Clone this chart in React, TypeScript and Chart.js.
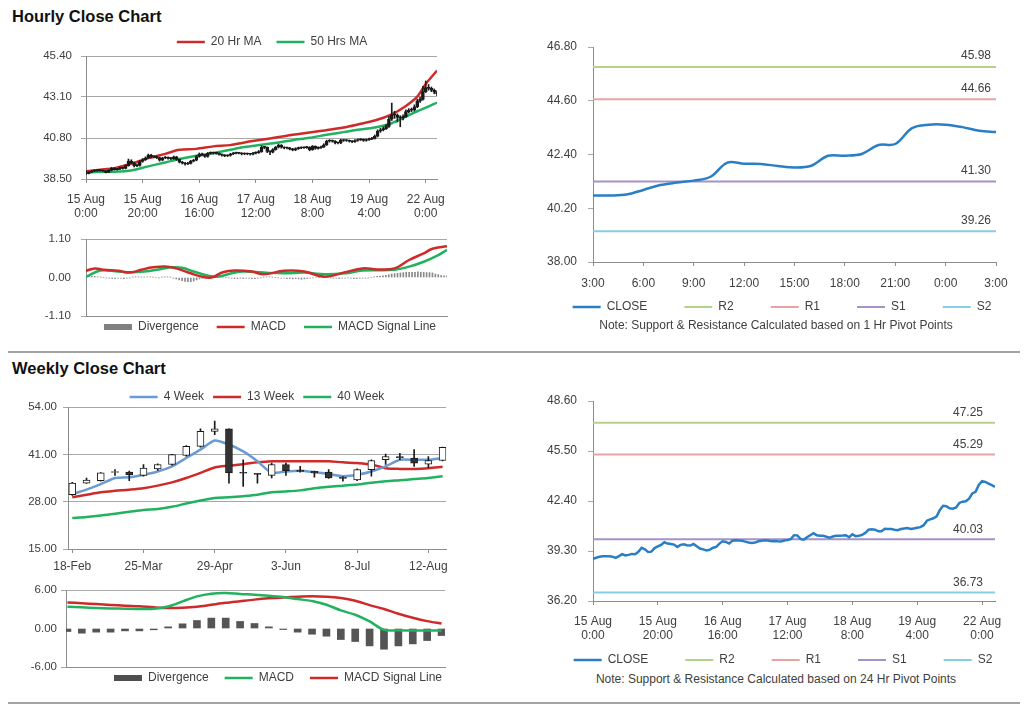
import React, { useEffect, useRef } from 'react';
import { Chart, registerables } from 'chart.js';

Chart.register(...registerables);

const FONT = '"Liberation Sans", Arial, Helvetica, sans-serif';
Chart.defaults.font.family = FONT;

const TXT = '#404040';
const AXIS = '#8c8c8c';
const GRID = '#a8a8a8';
const RED = '#cf2a2a';
const GREEN = '#22b25f';
const BLUE4 = '#6a9bd3';
const CLOSE_BLUE = '#2a7fc4';
const CANDLE = '#1a1a1a';

// ---------------- Hourly (15 Aug 0:00 .. 22 Aug) ----------------
const hourTickIdx = [0, 20, 40, 60, 80, 100, 120];
const hourTickLabels = [
  ['15 Aug', '0:00'], ['15 Aug', '20:00'], ['16 Aug', '16:00'], ['17 Aug', '12:00'],
  ['18 Aug', '8:00'], ['19 Aug', '4:00'], ['22 Aug', '0:00'],
];

const hourlyOpen = [
  38.90, 38.81, 38.88, 38.95, 38.97, 38.97, 38.97, 38.95, 38.87, 38.98,
  39.10, 39.03, 39.06, 39.12, 39.10, 39.25, 39.50, 39.40, 39.24, 39.26,
  39.48, 39.58, 39.68, 39.84, 39.76, 39.74, 39.70, 39.55, 39.68, 39.72,
  39.66, 39.64, 39.74, 39.60, 39.45, 39.40, 39.34, 39.38, 39.50, 39.55,
  39.76, 39.90, 39.86, 39.76, 39.94, 39.97, 39.95, 39.94, 39.88, 39.83,
  39.80, 39.82, 39.90, 39.94, 39.96, 39.95, 39.90, 39.92, 39.90, 39.89,
  39.95, 39.98, 40.04, 40.28, 40.27, 40.05, 40.00, 40.15, 40.28, 40.40,
  40.28, 40.24, 40.24, 40.18, 40.13, 40.20, 40.24, 40.25, 40.26, 40.28,
  40.15, 40.33, 40.22, 40.25, 40.30, 40.42, 40.62, 40.65, 40.62, 40.52,
  40.52, 40.68, 40.66, 40.66, 40.62, 40.59, 40.66, 40.70, 40.72, 40.66,
  40.70, 40.74, 40.78, 40.90, 41.18, 41.26, 41.33, 41.45, 41.85, 42.10,
  42.08, 41.95, 41.92, 42.00, 42.28, 42.36, 42.38, 42.55, 42.87, 42.97,
  43.40, 43.63, 43.58, 43.48, 43.38,
];
const hourlyHigh = [
  38.98, 38.92, 38.99, 39.02, 39.01, 39.03, 39.00, 38.98, 39.02, 39.15,
  39.14, 39.10, 39.18, 39.16, 39.30, 39.62, 39.58, 39.45, 39.33, 39.55,
  39.65, 39.74, 39.90, 39.88, 39.80, 39.78, 39.73, 39.72, 39.77, 39.75,
  39.70, 39.79, 39.77, 39.63, 39.49, 39.44, 39.43, 39.55, 39.60, 39.82,
  39.96, 39.95, 39.89, 39.99, 40.02, 40.01, 39.99, 39.97, 39.91, 39.87,
  39.86, 39.94, 39.99, 40.01, 40.00, 39.98, 39.97, 39.96, 39.94, 40.00,
  40.03, 40.10, 40.36, 40.33, 40.30, 40.09, 40.20, 40.33, 40.46, 40.43,
  40.31, 40.29, 40.27, 40.22, 40.25, 40.29, 40.30, 40.31, 40.33, 40.31,
  40.38, 40.36, 40.30, 40.35, 40.48, 40.68, 40.71, 40.69, 40.65, 40.57,
  40.73, 40.72, 40.70, 40.69, 40.66, 40.71, 40.75, 40.77, 40.75, 40.75,
  40.80, 40.84, 40.97, 41.26, 41.34, 41.42, 41.55, 42.00, 42.76, 42.30,
  42.15, 42.05, 42.10, 42.38, 42.45, 42.48, 42.66, 42.98, 43.10, 43.70,
  44.00, 43.80, 43.66, 43.55, 43.45,
];
const hourlyLow = [
  38.74, 38.78, 38.85, 38.92, 38.93, 38.94, 38.91, 38.84, 38.85, 38.95,
  39.00, 38.99, 39.03, 39.05, 39.07, 39.22, 39.35, 39.18, 39.19, 39.22,
  39.44, 39.54, 39.64, 39.70, 39.68, 39.64, 39.50, 39.52, 39.64, 39.61,
  39.59, 39.60, 39.55, 39.40, 39.34, 39.28, 39.30, 39.34, 39.46, 39.52,
  39.72, 39.80, 39.71, 39.72, 39.90, 39.90, 39.89, 39.84, 39.78, 39.75,
  39.76, 39.78, 39.86, 39.90, 39.90, 39.85, 39.86, 39.86, 39.84, 39.85,
  39.91, 39.94, 40.00, 40.20, 39.98, 39.86, 39.96, 40.12, 40.24, 40.23,
  40.19, 40.19, 40.13, 40.08, 40.09, 40.16, 40.20, 40.21, 40.22, 40.08,
  40.11, 40.17, 40.18, 40.21, 40.26, 40.38, 40.57, 40.57, 40.47, 40.47,
  40.48, 40.61, 40.61, 40.57, 40.54, 40.55, 40.62, 40.66, 40.61, 40.62,
  40.66, 40.70, 40.74, 40.86, 41.12, 41.20, 41.28, 41.40, 41.78, 41.90,
  41.70, 41.43, 41.82, 41.95, 42.20, 42.28, 42.32, 42.50, 42.80, 42.92,
  43.35, 43.48, 43.40, 43.28, 43.18,
];
const hourlyClose = [
  38.81, 38.88, 38.95, 38.97, 38.97, 38.97, 38.95, 38.87, 38.98, 39.10,
  39.03, 39.06, 39.12, 39.10, 39.25, 39.50, 39.40, 39.24, 39.26, 39.48,
  39.58, 39.68, 39.84, 39.76, 39.74, 39.70, 39.55, 39.68, 39.72, 39.66,
  39.64, 39.74, 39.60, 39.45, 39.40, 39.34, 39.38, 39.50, 39.55, 39.76,
  39.90, 39.86, 39.76, 39.94, 39.97, 39.95, 39.94, 39.88, 39.83, 39.80,
  39.82, 39.90, 39.94, 39.96, 39.95, 39.90, 39.92, 39.90, 39.89, 39.95,
  39.98, 40.04, 40.28, 40.27, 40.05, 40.00, 40.15, 40.28, 40.40, 40.28,
  40.24, 40.24, 40.18, 40.13, 40.20, 40.24, 40.25, 40.26, 40.28, 40.15,
  40.33, 40.22, 40.25, 40.30, 40.42, 40.62, 40.65, 40.62, 40.52, 40.52,
  40.68, 40.66, 40.66, 40.62, 40.59, 40.66, 40.70, 40.72, 40.66, 40.70,
  40.74, 40.78, 40.90, 41.18, 41.26, 41.33, 41.45, 41.85, 42.10, 42.08,
  41.95, 41.92, 42.00, 42.28, 42.36, 42.38, 42.55, 42.87, 42.97, 43.40,
  43.63, 43.58, 43.48, 43.38, 43.28,
];

const maHourIdx = [0, 5, 10, 16, 22, 28, 33, 39, 45, 51, 56, 62, 68, 73, 79, 85, 91, 96, 102, 108, 113, 117, 120, 124];
const ma20Hour = [38.93, 39.02, 39.11, 39.36, 39.67, 39.91, 40.14, 40.19, 40.33, 40.40, 40.55, 40.70, 40.85, 40.98, 41.11, 41.24, 41.39, 41.56, 41.78, 42.13, 42.60, 43.12, 43.83, 44.58];
const ma50Hour = [38.87, 38.91, 38.91, 38.98, 39.21, 39.43, 39.62, 39.80, 39.95, 40.14, 40.29, 40.42, 40.55, 40.68, 40.81, 40.98, 41.13, 41.26, 41.39, 41.63, 42.00, 42.30, 42.50, 42.79];

const macdHourIdx = [0, 3, 6, 11, 15, 19, 23, 28, 31, 36, 39, 43, 47, 51, 57, 61, 68, 75, 82, 89, 95, 100, 106, 111, 116, 119, 124];
const macdHour = [0.19, 0.26, 0.22, 0.19, 0.14, 0.22, 0.29, 0.31, 0.26, 0.12, 0.04, 0.00, 0.15, 0.20, 0.17, 0.09, 0.19, 0.17, 0.02, 0.15, 0.26, 0.23, 0.26, 0.50, 0.69, 0.82, 0.89];
const sigHourIdx = [0, 5, 11, 15, 20, 25, 29, 33, 37, 42, 45, 50, 54, 61, 68, 75, 82, 89, 95, 106, 111, 116, 121, 124];
const sigHour = [0.02, 0.20, 0.17, 0.15, 0.17, 0.23, 0.29, 0.28, 0.17, 0.05, 0.02, 0.12, 0.17, 0.14, 0.12, 0.14, 0.09, 0.12, 0.20, 0.22, 0.31, 0.45, 0.64, 0.79];
const divHour = [
  0.02, 0.03, 0.04, 0.03, 0.02, 0.01, 0.00, -0.01, -0.02, -0.03,
  -0.03, -0.02, -0.02, -0.03, -0.02, -0.01, 0.01, 0.02, 0.02, 0.01,
  0.01, 0.02, 0.02, 0.01, 0.00, -0.01, 0.01, 0.02, 0.02, 0.01,
  -0.02, -0.04, -0.07, -0.09, -0.11, -0.12, -0.12, -0.10, -0.07, -0.04,
  -0.02, 0.00, 0.02, 0.03, 0.04, 0.03, 0.02, 0.01, 0.00, -0.01,
  -0.02, -0.03, -0.03, -0.02, -0.03, -0.02, -0.02, -0.03, -0.03, -0.02,
  -0.01, 0.01, 0.02, 0.02, 0.01, 0.00, -0.01, -0.02, -0.02, -0.03,
  -0.03, -0.04, -0.03, -0.04, -0.05, -0.04, -0.03, -0.02, -0.01, 0.00,
  0.01, 0.02, 0.01, 0.00, -0.01, -0.02, -0.02, -0.03, -0.02, -0.02,
  -0.01, -0.02, -0.03, -0.03, -0.02, -0.02, -0.02, -0.01, 0.00, 0.02,
  0.03, 0.04, 0.05, 0.06, 0.08, 0.10, 0.11, 0.12, 0.13, 0.14,
  0.15, 0.15, 0.15, 0.15, 0.16, 0.15, 0.15, 0.14, 0.14, 0.13,
  0.10, 0.08, 0.06, 0.05, 0.05,
];

// ---------------- Last day hourly (pivot, 1 Hr) ----------------
const dayTickIdx = [0, 3, 6, 9, 12, 15, 18, 21, 24];
const dayTickLabels = ['3:00', '6:00', '9:00', '12:00', '15:00', '18:00', '21:00', '0:00', '3:00'];
const dayClose = [40.72, 40.72, 40.76, 40.95, 41.15, 41.25, 41.33, 41.49, 42.07, 42.02, 42.01, 41.93, 41.87, 41.94, 42.35, 42.35, 42.42, 42.79, 42.83, 43.48, 43.62, 43.62, 43.52, 43.37, 43.32];

const pivotNames = ['R2', 'R1', 'S1', 'S2'];
const dayPivots = [45.98, 44.66, 41.30, 39.26];
const hourPivots = [47.25, 45.29, 40.03, 36.73];

// ---------------- Weekly ----------------
const weekTickIdx = [0, 5, 10, 15, 20, 25];
const weekTickLabels = ['18-Feb', '25-Mar', '29-Apr', '3-Jun', '8-Jul', '12-Aug'];
const weekOpen = [29.9, 33.1, 33.8, 36.0, 36.1, 35.2, 37.0, 38.2, 40.7, 43.2, 47.3, 48.0, 36.0, 35.7, 35.2, 38.2, 36.4, 36.3, 36.1, 34.6, 34.0, 36.8, 39.5, 40.2, 40.0, 38.3, 39.3];
const weekClose = [33.1, 33.9, 35.9, 36.2, 35.4, 37.2, 38.2, 40.9, 43.2, 47.3, 48.0, 35.9, 35.8, 35.5, 38.2, 36.5, 36.3, 35.9, 34.5, 34.4, 36.8, 39.3, 40.4, 40.1, 38.6, 39.3, 42.9];
const weekHigh = [33.3, 34.5, 36.0, 36.8, 36.4, 38.2, 38.4, 41.0, 43.4, 48.0, 50.1, 48.0, 39.5, 35.8, 38.6, 38.6, 37.7, 36.4, 36.8, 34.9, 37.0, 39.5, 41.1, 41.3, 42.3, 40.4, 43.0];
const weekLow = [29.7, 33.0, 33.6, 35.2, 33.8, 35.0, 36.6, 38.0, 40.5, 43.0, 46.4, 33.1, 32.2, 33.1, 34.5, 35.2, 36.1, 34.7, 34.4, 33.6, 33.8, 35.0, 38.2, 39.5, 37.7, 37.4, 39.2];
const ma4Week = [30.1, 31.3, 32.8, 34.5, 34.7, 35.4, 36.3, 37.7, 40.0, 42.3, 44.8, 43.7, 41.8, 39.1, 35.9, 36.3, 36.5, 36.1, 35.6, 35.0, 35.4, 36.3, 37.7, 39.5, 39.5, 39.5, 40.0];
const ma13Week = [29.2, 29.9, 30.6, 31.0, 31.3, 31.7, 32.4, 33.3, 34.5, 35.9, 37.4, 37.9, 38.3, 38.8, 39.1, 39.1, 39.1, 39.1, 39.1, 38.8, 38.6, 38.2, 37.2, 37.0, 37.0, 37.2, 37.6];
const ma40Week = [23.5, 23.8, 24.2, 24.7, 25.2, 25.7, 26.0, 26.6, 27.5, 28.3, 29.0, 29.2, 29.5, 29.9, 30.6, 30.8, 31.1, 31.7, 32.1, 32.4, 32.7, 33.2, 33.6, 33.9, 34.2, 34.5, 35.0];
const macdWeek = [3.39, 3.30, 3.20, 3.13, 3.08, 3.03, 3.08, 3.44, 4.22, 5.00, 5.43, 5.53, 5.38, 5.27, 5.11, 4.90, 4.59, 4.28, 3.70, 2.82, 2.14, 1.10, -0.21, -0.28, -0.31, -0.31, -0.31];
const sigWeek = [4.07, 3.95, 3.80, 3.68, 3.55, 3.45, 3.30, 3.20, 3.25, 3.40, 3.70, 4.00, 4.25, 4.50, 4.70, 4.85, 4.96, 5.01, 4.96, 4.75, 4.33, 3.65, 3.03, 2.30, 1.67, 1.15, 0.78];
const divWeek = [-0.47, -0.73, -0.57, -0.57, -0.37, -0.37, -0.20, 0.26, 0.73, 1.25, 1.62, 1.62, 1.10, 0.78, 0.26, -0.16, -0.57, -0.89, -1.20, -1.72, -2.03, -2.71, -3.23, -2.71, -2.40, -1.88, -1.10];

// ---------------- Axis tick values ----------------
const hourPriceTicks = [38.5, 40.8, 43.1, 45.4];
const hourMacdTicks = [-1.1, 0, 1.1];
const dayPriceTicks = [38.0, 40.2, 42.4, 44.6, 46.8];
const pivotPriceTicks = [36.2, 39.3, 42.4, 45.5, 48.6];
const weekPriceTicks = [15, 28, 41, 54];
const weekMacdTicks = [-6, 0, 6];

const pivotColors = ['#b3d389', '#e8a4a4', '#a592c8', '#86cde6'];

// ---------------- Plugins ----------------
const legendPlace = {
  id: 'legendPlace',
  afterLayout(chart: any, _args: any, opts: any) {
    const lg = chart.legend;
    if (!lg || !opts || opts.cx == null) return;
    const p = opts.pad;
    const top = opts.cy - p - opts.fs / 2;
    lg.left = opts.cx - 320;
    lg.right = opts.cx + 320;
    lg.width = 640;
    lg.top = top;
    lg.bottom = opts.cy + 20;
    lg.height = lg.bottom - top;
    const ctx = chart.ctx;
    ctx.save();
    ctx.font = `${opts.fs}px ${FONT}`;
    let total = 0;
    for (const it of lg.legendItems || []) total += 28 + opts.fs / 2 + ctx.measureText(it.text).width + p;
    ctx.restore();
    lg.lineWidths = [total];
  },
};

const levelLabels = {
  id: 'levelLabels',
  afterDatasetsDraw(chart: any, _args: any, opts: any) {
    if (!opts || opts.inset == null) return;
    const { ctx, chartArea } = chart;
    const y = chart.scales.y;
    ctx.save();
    ctx.font = `12px ${FONT}`;
    ctx.fillStyle = TXT;
    ctx.textAlign = 'right';
    ctx.textBaseline = 'middle';
    chart.data.datasets.forEach((ds: any) => {
      if (ds.level != null) ctx.fillText(ds.level.toFixed(2), chartArea.right - opts.inset, y.getPixelForValue(ds.level) - opts.dy);
    });
    ctx.restore();
  },
};

Chart.register(legendPlace as any, levelLabels as any);

// ---------------- Helpers ----------------
function yAxis(ticks: number[], width: number, pad: number, gridOnArea: boolean, size: number, skipZero = false) {
  return {
    type: 'linear',
    position: 'left',
    min: ticks[0],
    max: ticks[ticks.length - 1],
    beginAtZero: false,
    afterBuildTicks: (s: any) => { s.ticks = ticks.map((v) => ({ value: v })); },
    afterFit: (s: any) => { s.width = width; },
    ticks: { color: TXT, font: { family: FONT, size }, padding: pad, callback: (v: any) => Number(v).toFixed(2) },
    grid: {
      display: true, drawOnChartArea: gridOnArea, tickLength: 5, lineWidth: 1,
      color: (c: any) => (skipZero && c.tick && c.tick.value === 0 ? 'rgba(0,0,0,0)' : GRID),
    },
    border: { display: true, color: AXIS, width: 1 },
  };
}

function xAxis(min: number, max: number, idx: number[], labels: any[], height: number, pad: number, show: boolean) {
  return {
    type: 'linear',
    position: 'bottom',
    min,
    max,
    offset: false,
    afterBuildTicks: (s: any) => { s.ticks = idx.map((v) => ({ value: v })); },
    afterFit: (s: any) => { s.height = height; },
    ticks: {
      display: show, color: TXT, font: { family: FONT, size: 12, lineHeight: 1.17 }, padding: pad,
      maxRotation: 0, minRotation: 0, autoSkip: false, callback: (_v: any, i: number) => labels[i],
    },
    grid: { display: show, offset: false, drawOnChartArea: false, color: AXIS, tickLength: 4 },
    border: { display: true, color: AXIS, width: 1 },
  };
}

function lineDs(label: string, data: any[], color: string, width: number, tension: number) {
  return {
    type: 'line', label, data, borderColor: color, backgroundColor: color, borderWidth: width,
    pointRadius: 0, pointHoverRadius: 0, pointBorderWidth: width, pointStyle: 'line', tension, fill: false,
  };
}

function legendOpts(pad: number) {
  return {
    display: true,
    position: 'bottom',
    align: 'center',
    maxHeight: 1,
    labels: {
      usePointStyle: true, pointStyleWidth: 28, boxHeight: 6, padding: pad, color: TXT,
      font: { family: FONT, size: 12 },
      generateLabels: (chart: any) => {
        const items = (Chart as any).defaults.plugins.legend.labels.generateLabels(chart);
        return items.map((it: any) => {
          const ds = chart.data.datasets[it.datasetIndex];
          if (ds.legendRect) return { ...it, pointStyle: 'rect', lineWidth: 0, fillStyle: ds.legendRect };
          return { ...it, pointStyle: 'line' };
        });
      },
      filter: (it: any, data: any) => !data.datasets[it.datasetIndex].noLegend,
      sort: (a: any, b: any, data: any) => (data.datasets[a.datasetIndex].rank ?? a.datasetIndex) - (data.datasets[b.datasetIndex].rank ?? b.datasetIndex),
    },
  };
}

function baseOptions(padding: any, scales: any, legendPad: number, cx: number, cy: number, extra: any = {}) {
  return {
    animation: false,
    responsive: false,
    maintainAspectRatio: false,
    events: [],
    layout: { padding },
    scales,
    plugins: {
      legend: legendOpts(legendPad),
      legendPlace: { cx, cy, pad: legendPad, fs: 12 },
      tooltip: { enabled: false },
      title: { display: false },
      ...extra,
    },
  };
}

function candleSets(open: number[], high: number[], low: number[], close: number[], bodyW: number, upFill: string, downFill: string) {
  return [
    {
      type: 'bar', label: 'Body', noLegend: true,
      data: close.map((c, i) => ({ x: i, y: [open[i], c] })),
      backgroundColor: close.map((c, i) => (c >= open[i] ? upFill : downFill)),
      borderColor: CANDLE, borderWidth: 1, borderSkipped: false, barThickness: bodyW, grouped: false, minBarLength: 1,
    },
    {
      type: 'bar', label: 'Wick', noLegend: true,
      data: high.map((h, i) => ({ x: i, y: [low[i], h] })),
      backgroundColor: CANDLE, borderWidth: 0, barThickness: 1, grouped: false, minBarLength: 1,
    },
  ];
}

// ---------------- Chart configs ----------------
function hourlyCandleConfig() {
  return {
    type: 'bar',
    data: {
      datasets: [
        ...candleSets(hourlyOpen, hourlyHigh, hourlyLow, hourlyClose, 3, CANDLE, CANDLE),
        lineDs('20 Hr MA', ma20Hour.map((y, j) => ({ x: maHourIdx[j], y })), RED, 2.5, 0.3),
        lineDs('50 Hrs MA', ma50Hour.map((y, j) => ({ x: maHourIdx[j], y })), GREEN, 2.5, 0.3),
      ],
    },
    options: baseOptions(
      { top: 26, left: 0, right: 8, bottom: 0 },
      { x: xAxis(0, 124, hourTickIdx, hourTickLabels, 50, 10, true), y: yAxis(hourPriceTicks, 86, 9, true, 11.5) },
      15, 272, 12,
    ),
  };
}

function hourlyMacdConfig() {
  return {
    type: 'bar',
    data: {
      datasets: [
        { ...lineDs('MACD', macdHour.map((y, j) => ({ x: macdHourIdx[j], y })), RED, 2.5, 0.4), rank: 1 },
        { ...lineDs('MACD Signal Line', sigHour.map((y, j) => ({ x: sigHourIdx[j], y })), GREEN, 2.5, 0.4), rank: 2 },
        {
          type: 'bar', label: 'Divergence', rank: 0, legendRect: '#808080',
          data: divHour.map((y, i) => ({ x: i, y })), backgroundColor: '#8a8a8a', barThickness: 1, grouped: false,
        },
      ],
    },
    options: baseOptions(
      { top: 19, left: 0, right: 8, bottom: 0 },
      { x: xAxis(0, 124, hourTickIdx, hourTickLabels, 21, 0, false), y: yAxis(hourMacdTicks, 86, 10, true, 11.5, true) },
      18, 270, 107,
    ),
  };
}

function pivotConfig(close: number[], levels: number[], xmax: number, idx: number[], labels: any[], ticks: number[],
  padTop: number, padRight: number, xH: number, xPad: number, cx: number, cy: number, inset: number, dy: number, tension: number) {
  return {
    type: 'line',
    data: {
      datasets: [
        lineDs('CLOSE', close.map((y, i) => ({ x: i, y })), CLOSE_BLUE, 2.5, tension),
        ...pivotNames.map((n, j) => ({
          ...lineDs(n, [{ x: 0, y: levels[j] }, { x: xmax, y: levels[j] }], pivotColors[j], 2, 0),
          level: levels[j],
        })),
      ],
    },
    options: baseOptions(
      { top: padTop, left: 0, right: padRight, bottom: 0 },
      { x: xAxis(0, xmax, idx, labels, xH, xPad, true), y: yAxis(ticks, 65, 11, false, 12) },
      37, cx, cy,
      { levelLabels: { inset, dy } },
    ),
  };
}

function weeklyCandleConfig() {
  return {
    type: 'bar',
    data: {
      datasets: [
        ...candleSets(weekOpen, weekHigh, weekLow, weekClose, 7, '#ffffff', '#333333'),
        lineDs('4 Week', ma4Week.map((y, i) => ({ x: i, y })), BLUE4, 2.5, 0.2),
        lineDs('13 Week', ma13Week.map((y, i) => ({ x: i, y })), RED, 2.5, 0.3),
        lineDs('40 Week', ma40Week.map((y, i) => ({ x: i, y })), GREEN, 2.5, 0.3),
      ],
    },
    options: baseOptions(
      { top: 27, left: 0, right: 6, bottom: 0 },
      { x: xAxis(-0.3, 26.25, weekTickIdx, weekTickLabels, 30, 7, true), y: yAxis(weekPriceTicks, 68, 6, true, 11.5) },
      9, 257, 17,
    ),
  };
}

function weeklyMacdConfig() {
  return {
    type: 'bar',
    data: {
      datasets: [
        { ...lineDs('MACD', macdWeek.map((y, i) => ({ x: i, y })), GREEN, 2.5, 0.3), rank: 1 },
        { ...lineDs('MACD Signal Line', sigWeek.map((y, i) => ({ x: i, y })), RED, 2.5, 0.3), rank: 2 },
        {
          type: 'bar', label: 'Divergence', rank: 0, legendRect: '#4f4f4f',
          data: divWeek.map((y, i) => ({ x: i, y })), backgroundColor: '#555555', barThickness: 7, grouped: false,
        },
      ],
    },
    options: baseOptions(
      { top: 12, left: 0, right: 10, bottom: 0 },
      { x: xAxis(-0.1, 26.24, weekTickIdx, weekTickLabels, 22, 0, false), y: yAxis(weekMacdTicks, 66, 4, true, 11.5, true) },
      16, 278, 100,
    ),
  };
}

// ---------------- Components ----------------
function ChartBox(props: { left: number; top: number; width: number; height: number; make: () => any }) {
  const ref = useRef<HTMLCanvasElement>(null);
  useEffect(() => {
    const chart = new Chart(ref.current as HTMLCanvasElement, props.make());
    return () => chart.destroy();
  }, []);
  return (
    <canvas
      ref={ref}
      width={props.width}
      height={props.height}
      style={{ position: 'absolute', left: props.left, top: props.top, width: props.width, height: props.height }}
    />
  );
}

const titleStyle: any = {
  position: 'absolute', left: 12, fontFamily: FONT, fontWeight: 'bold', fontSize: 16.5, lineHeight: '20px', color: '#111',
  whiteSpace: 'nowrap',
};
const noteStyle: any = {
  position: 'absolute', left: 528, width: 496, textAlign: 'center', fontFamily: FONT, fontSize: 12, lineHeight: '14px',
  color: TXT, whiteSpace: 'nowrap',
};
const sepStyle: any = { position: 'absolute', left: 8, width: 1012, height: 2, background: '#a3a3a3' };

export default function App() {
  return (
    <div style={{ position: 'fixed', left: 0, top: 0, width: 1024, height: 705, background: '#ffffff', overflow: 'hidden' }}>
      <div style={{ ...titleStyle, top: 6 }}>Hourly Close Chart</div>
      <ChartBox left={0} top={30} width={455} height={200} make={hourlyCandleConfig} />
      <ChartBox left={0} top={220} width={455} height={118} make={hourlyMacdConfig} />
      <ChartBox
        left={528} top={28} width={496} height={292}
        make={() => pivotConfig(dayClose, dayPivots, 24, dayTickIdx, dayTickLabels, dayPriceTicks, 19, 28, 57, 11, 254, 279, 5, 11, 0.35)}
      />
      <div style={{ ...noteStyle, top: 318 }}>Note: Support &amp; Resistance Calculated based on 1 Hr Pivot Points</div>
      <div style={{ ...sepStyle, top: 351 }} />

      <div style={{ ...titleStyle, top: 358 }}>Weekly Close Chart</div>
      <ChartBox left={0} top={380} width={455} height={200} make={weeklyCandleConfig} />
      <ChartBox left={0} top={578} width={455} height={112} make={weeklyMacdConfig} />
      <ChartBox
        left={528} top={382} width={496} height={288}
        make={() => pivotConfig(hourlyClose, hourPivots, 124, hourTickIdx, hourTickLabels, pivotPriceTicks, 19, 29, 68, 10, 255, 278, 12, 10, 0)}
      />
      <div style={{ ...noteStyle, top: 672 }}>Note: Support &amp; Resistance Calculated based on 24 Hr Pivot Points</div>
      <div style={{ ...sepStyle, top: 702 }} />
    </div>
  );
}
